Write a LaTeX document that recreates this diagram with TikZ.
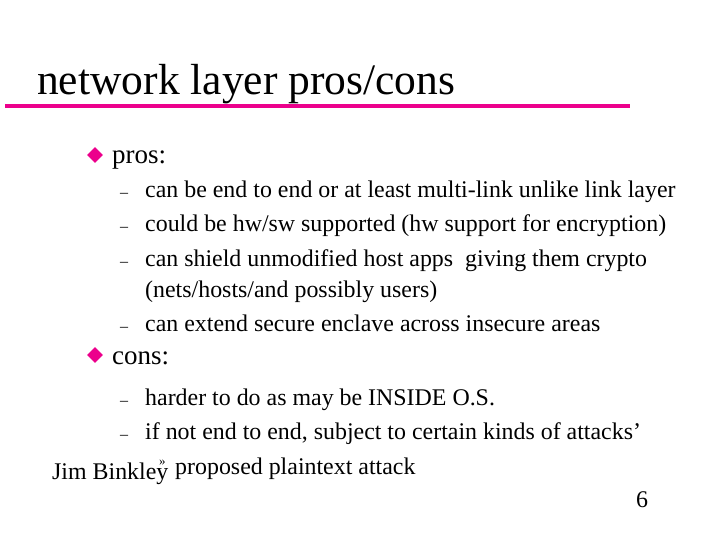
\documentclass[tikz,border=0pt]{standalone}
\usepackage{fontspec}
\setmainfont{Liberation Serif}
\begin{document}
\begin{tikzpicture}[x=1pt,y=-1pt,
  txt/.style={anchor=base west,inner sep=0pt,font=\fontsize{23.9}{28}\selectfont},
  dsh/.style={anchor=base west,inner sep=0pt,font=\fontsize{16}{18}\selectfont},
  big/.style={anchor=base west,inner sep=0pt,font=\fontsize{27}{32}\selectfont},
  dia/.style={fill=magenta,draw=none,minimum size=11pt,inner sep=0pt,shape=rectangle,rotate=45}]
\useasboundingbox (0,0) rectangle (720,540);
\node[anchor=base west,inner sep=0pt,font=\fontsize{43.5}{50}\selectfont] (title) at (37,95) {network layer pros/cons};
\coordinate (l1) at (5,106); \coordinate (l2) at (630,106);
\draw[magenta,line width=4pt] (l1) -- (l2);
\node[dia] (b1) at (95,155) {};
\node[big] (pros) at (112,164) {pros:};
\foreach \y/\t in {197/{can be end to end or at least multi-link unlike link layer},
  232/{could be hw/sw supported (hw support for encryption)},
  266/{can shield unmodified host apps\ \ giving them crypto},
  331/{can extend secure enclave across insecure areas},
  405/{harder to do as may be INSIDE O.S.},
  439/{if not end to end, subject to certain kinds of attacks’}}{
  \node[dsh] (d\y) at (120,\y) {–};
  \node[txt] (t\y) at (145,\y) {\t};
}
\node[txt] (t296) at (145,297) {(nets/hosts/and possibly users)};
\node[dia] (b2) at (95,355) {};
\node[big] (cons) at (112,364) {cons:};
\node[anchor=base west,inner sep=0pt,font=\fontsize{13}{14}\selectfont] (r) at (159,465) {»};
\node[txt] (t474) at (175,474) {proposed plaintext attack};
\node[txt] (jb) at (52,479) {Jim Binkley};
\node[txt] (pg) at (636,507) {6};
\end{tikzpicture}
\end{document}
